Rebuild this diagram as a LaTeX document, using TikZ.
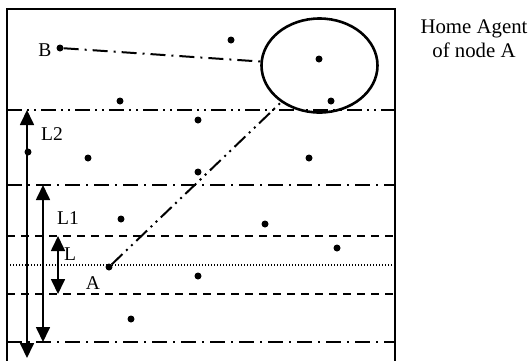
\documentclass[tikz,border=0pt]{standalone}
\usepackage{fontspec}
\setmainfont{Liberation Serif}
\usetikzlibrary{shapes.geometric, arrows.meta, positioning}
\tikzset{
  punto/.style={circle, fill=black, inner sep=0pt, minimum size=7pt},
  etiqueta/.style={font=\fontsize{19.5}{24}\selectfont, inner sep=0pt, align=center},
  flecha/.style={line width=1.7pt, {Triangle[length=15pt,width=14pt]}-{Triangle[length=15pt,width=14pt]}},
  agente/.style={ellipse, draw, line width=2.6pt, minimum width=116pt, minimum height=94pt, inner sep=0pt},
  rayadpd/.style={line width=2pt, dash pattern=on 15pt off 5pt on 2pt off 5pt on 2pt off 5pt},
  rayadp/.style={line width=2pt, dash pattern=on 15pt off 6pt on 2pt off 6pt},
  rayado/.style={line width=2pt, dash pattern=on 8pt off 6pt},
  punteado/.style={line width=1.2pt, dash pattern=on 1.2pt off 1.8pt}
}

\begin{document}
\begin{tikzpicture}[x=1pt, y=-1pt]
  \useasboundingbox (0,0) rectangle (530,360);
  % area
  \draw [line width=2pt] (7,370) -- (7,9) -- (395,9) -- (395,370);
  \draw [rayadpd] (7,110) -- (395,110);
  \draw [rayadp] (7,185) -- (395,185);
  \draw [rayado] (7,236) -- (395,236);
  \draw [punteado] (10,265) -- (395,265);
  \draw [rayado] (7,294) -- (395,294);
  \draw [rayadp] (7,342) -- (395,342);
  % home agent
  \node (ha) [agente] at (319.5,65.5) {};
  \node (hatxt) [etiqueta, font=\fontsize{20.8}{24}\selectfont] at (474,39) {Home Agent\\of node A};
  % nodos
  \node (B) [punto] at (60,48) {};
  \node (A) [punto] at (109,267) {};
  \node (p1) [punto] at (231,40) {};
  \node (p2) [punto] at (120,101) {};
  \node (p3) [punto] at (198,120) {};
  \node (p4) [punto] at (88,158) {};
  \node (p5) [punto] at (198,172) {};
  \node (p6) [punto] at (319,59) {};
  \node (p7) [punto] at (331,101) {};
  \node (p8) [punto] at (309,158) {};
  \node (p9) [punto] at (121,219) {};
  \node (p10) [punto] at (265,224) {};
  \node (p11) [punto] at (337,248) {};
  \node (p12) [punto] at (198,276) {};
  \node (p13) [punto] at (131,319) {};
  \node (p14) [punto] at (28,152) {};
  \node [etiqueta] at (45,50) {B};
  \node [etiqueta] at (93,283) {A};
  \draw [rayadp] (B) -- (ha);
  \draw [rayadpd] (A) -- (ha);
  % alcances
  \coordinate (l2a) at (27,110);
  \coordinate (l2b) at (27,358);
  \coordinate (l1a) at (43,185);
  \coordinate (l1b) at (43,342);
  \coordinate (la) at (58,236);
  \coordinate (lb) at (58,294);
  \draw [flecha] (l2a) -- (l2b);
  \draw [flecha] (l1a) -- (l1b);
  \draw [flecha] (la) -- (lb);
  \node [etiqueta] at (52,134) {L2};
  \node [etiqueta] at (68,218) {L1};
  \node [etiqueta] at (70,254) {L};
\end{tikzpicture}
\end{document}
